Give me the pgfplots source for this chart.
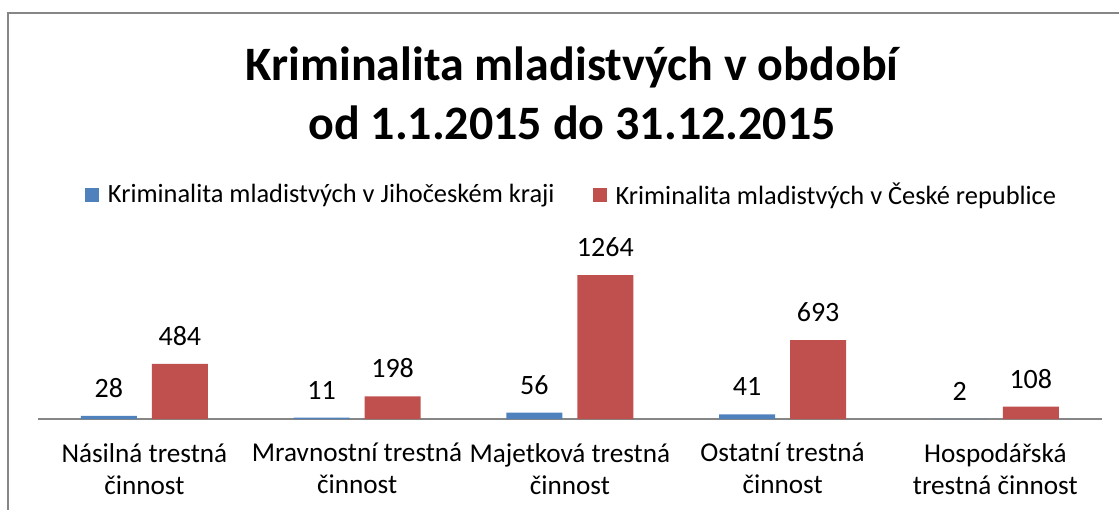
\documentclass[border=0pt]{standalone}
\usepackage{fontspec}
\setmainfont{Carlito}
\usepackage{pgfplots}
\pgfplotsset{compat=1.18}
\definecolor{xlblue}{HTML}{4F81BD}
\definecolor{xlred}{HTML}{C0504D}
\definecolor{xlgray}{HTML}{868686}

\begin{document}
\begin{tikzpicture}
% 1 px of the reference = 0.5pt
\clip (0pt,0pt) rectangle (559.5pt,254.5pt);
\draw[xlgray, line width=0.9pt] (4pt,248pt) rectangle (580pt,-20pt);

\node[font=\bfseries\fontsize{24}{29.5}\selectfont, align=center] at (286pt,208pt)
  {Kriminalita mladistvých v období\\od 1.1.2015 do 31.12.2015};

\begin{axis}[
  at={(19pt,45pt)}, anchor=south west,
  scale only axis,
  width=531.85pt, height=91pt,
  ybar=7.5pt, bar width=28pt,
  xmin=-0.5, xmax=4.5, ymin=0, ymax=1600,
  enlarge x limits=false,
  axis x line=bottom, axis y line=none,
  x axis line style={xlgray, line width=1pt, -},
  xtick=data, xtick style={draw=none},
  xticklabels={{Násilná trestná\\činnost},{Mravnostní trestná\\činnost},{Majetková trestná\\činnost},{Ostatní trestná\\činnost},{Hospodářská\\trestná činnost}},
  xticklabel style={align=center, font=\fontsize{13.6}{16}\selectfont, yshift=-6.5pt},
  nodes near coords,
  /pgf/number format/assume math mode=true,
  /pgf/number format/1000 sep={},
  nodes near coords style={font=\fontsize{14}{16}\selectfont, anchor=south, inner sep=0pt, yshift=9pt, text=black},
  legend columns=2,
  legend style={at={(0.5025,1.2308)}, anchor=center, draw=none, fill=none,
    font=\fontsize{13.2}{15}\selectfont,
    /tikz/every odd column/.append style={column sep=2.5pt},
    /tikz/every even column/.append style={column sep=17pt}},
  legend image code/.code={\fill[#1, draw=none] (0pt,-3.5pt) rectangle (7pt,3.5pt);},
]
\addplot[fill=xlblue, draw=none] coordinates {(0,28) (1,11) (2,56) (3,41) (4,2)};
\addlegendentry{Kriminalita mladistvých v Jihočeském kraji}
\addplot[fill=xlred, draw=none] coordinates {(0,484) (1,198) (2,1264) (3,693) (4,108)};
\addlegendentry{Kriminalita mladistvých v České republice}
\end{axis}
\end{tikzpicture}
\end{document}
